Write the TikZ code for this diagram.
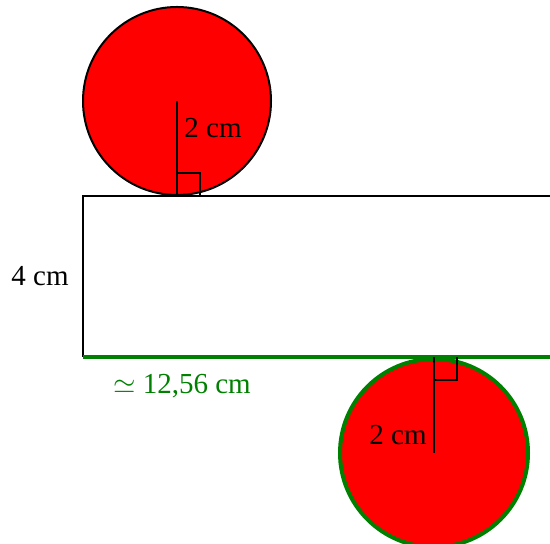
\documentclass[tikz,border=0pt]{standalone}
\usepackage{fontspec}
\setmainfont{Liberation Serif}
\usetikzlibrary{calc}

\colorlet{netgreen}{green!50!black}
\tikzset{
  edge/.style={line width=1pt,color=black},
  greenedge/.style={line width=2pt,color=netgreen},
  lbl/.style={inner sep=0pt,font=\fontsize{14.5}{17}\selectfont}
}

\begin{document}
\begin{tikzpicture}[x=0.5pt,y=0.5pt]
\clip (0,0) rectangle (550,544);

% Define the points.
\coordinate (O1) at (177,443);
\coordinate (T1) at (177,348);
\coordinate (O2) at (434,91);
\coordinate (T2) at (434,187);
\coordinate (A) at (83,348);
\coordinate (B) at (83,187);
\coordinate (C) at (620,187);
\coordinate (D) at (620,348);

% Top disc.
\draw[edge,fill=red] (O1) circle[radius=94];
\draw[edge] (O1) -- (T1);
\draw[edge] ($(T1)+(0,23)$) -| ($(T1)+(23,0)$);
\node[lbl,anchor=west] (r1) at (184,416) {2 cm};

% Lateral face.
\draw[edge] (B) -- (A) -- (D);
\draw[greenedge] (B) -- (C);
\node[lbl,anchor=east] (h) at (69,268) {4 cm};
\node[lbl,text=netgreen] (p) at (182,158) {$\simeq$ 12,56 cm};

% Bottom disc.
\draw[greenedge,fill=red] (O2) circle[radius=94];
\draw[edge] (O2) -- (T2);
\draw[edge] ($(T2)-(0,23)$) -| ($(T2)+(23,0)$);
\node[lbl,anchor=east] (r2) at (427,109) {2 cm};

\end{tikzpicture}
\end{document}
